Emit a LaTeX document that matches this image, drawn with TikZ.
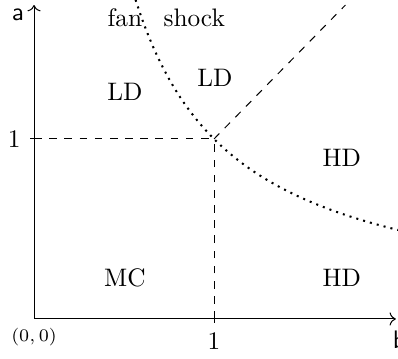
\documentclass[tikz,border=0pt]{standalone}
\usepackage{tikz}
\usetikzlibrary{arrows.meta,positioning}
\begin{document}
\begin{tikzpicture}[
  x=2.5cm,y=2.5cm,
  axis/.style={->},
  guide/.style={dashed},
  border/.style={dotted,thick},
  tick/.style={draw},
  region/.style={inner sep=1pt}
]
\useasboundingbox (-0.189,-0.217) rectangle (2.022,1.772);
\coordinate (O) at (0,0);
\coordinate (bend) at (2.01,0);
\coordinate (aend) at (0,1.744);
\coordinate (crit) at (1,1);
\coordinate (b1) at (1,0);
\coordinate (a1) at (0,1);
\coordinate (diag) at (1.73,1.744);
\draw[axis] (O) -- (bend);
\draw[axis] (O) -- (aend);
\node[font=\sffamily] (blab) at (2.03,-0.117) {b};
\node[font=\sffamily] (alab) at (-0.089,1.69) {a};
\node[below,font=\scriptsize] (olab) at (O) {$(0,0)$};
\draw (1,0.025) -- (1,-0.025) node[below] (b1lab) {1};
\draw (0.025,1) -- (-0.025,1) node[left] (a1lab) {1};
\draw[guide] (a1) -- (crit);
\draw[guide] (b1) -- (crit);
\draw[guide] (crit) -- (diag);
\draw[border] plot[domain=0.564:2.03,samples=60] (\x,{1/\x});
\node[region] (fan) at (0.505,1.672) {fan};
\node[region] (shock) at (0.89,1.672) {shock};
\node[region] (ld1) at (0.505,1.26) {LD};
\node[region] (ld2) at (1.005,1.34) {LD};
\node[region] (hd1) at (1.71,0.894) {HD};
\node[region] (mc) at (0.505,0.228) {MC};
\node[region] (hd2) at (1.71,0.228) {HD};
\end{tikzpicture}
\end{document}
